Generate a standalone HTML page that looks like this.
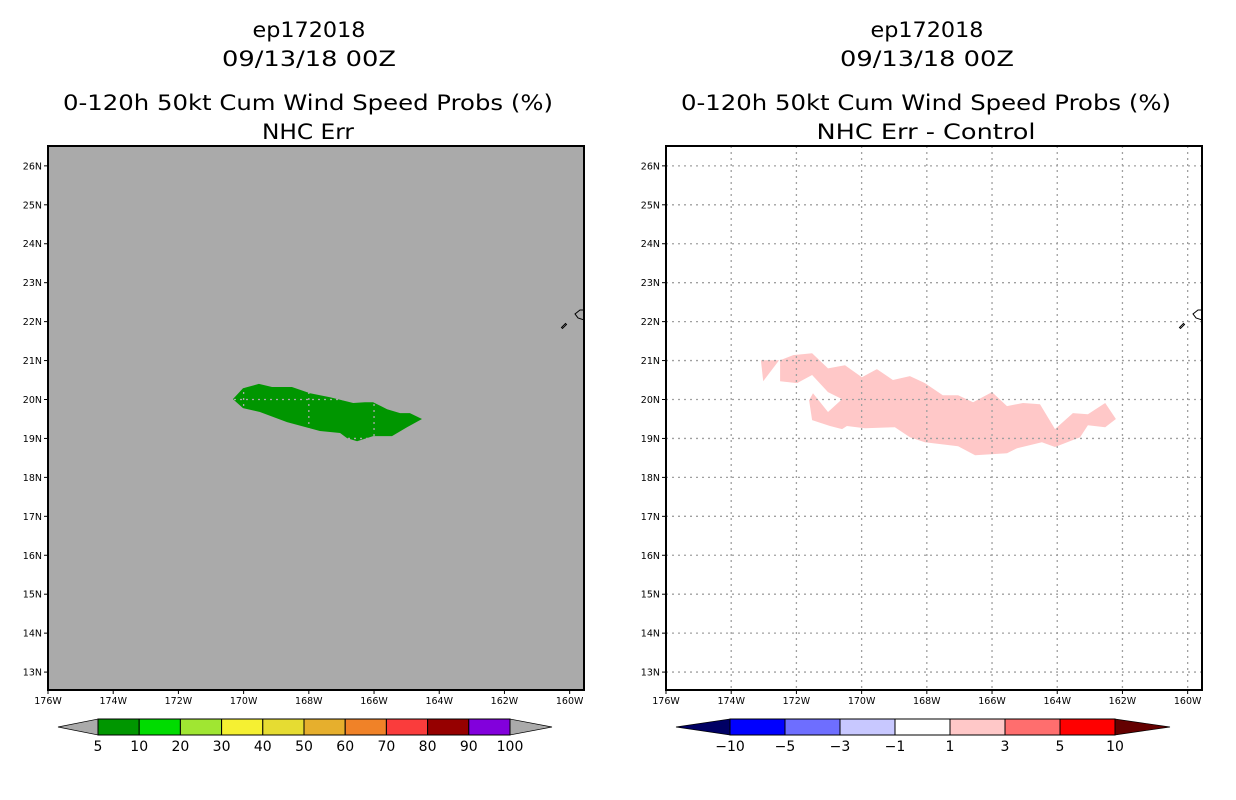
<!DOCTYPE html>
<html><head><meta charset="utf-8">
<style>
html,body{margin:0;padding:0;background:#fff;}
svg{display:block;font-family:"DejaVu Sans","Liberation Sans",sans-serif;}
.t{font-size:21px;text-anchor:middle;fill:#000;}
.ax{font-size:9.5px;fill:#000;}
.cb{font-size:14px;text-anchor:middle;fill:#000;}
</style></head>
<body>
<svg id="chart" width="1236" height="800" viewBox="0 0 1236 800">
  <g>
    <text class="t" x="309" y="37" textLength="113" lengthAdjust="spacingAndGlyphs">ep172018</text>
    <text class="t" x="309" y="66" textLength="174" lengthAdjust="spacingAndGlyphs">09/13/18 00Z</text>
    <text class="t" x="308" y="110" textLength="490" lengthAdjust="spacingAndGlyphs">0-120h 50kt Cum Wind Speed Probs (%)</text>
    <text class="t" x="308" y="139" textLength="92" lengthAdjust="spacingAndGlyphs">NHC Err</text>
  </g>
  <g>
    <text class="t" x="927" y="37" textLength="113" lengthAdjust="spacingAndGlyphs">ep172018</text>
    <text class="t" x="927" y="66" textLength="174" lengthAdjust="spacingAndGlyphs">09/13/18 00Z</text>
    <text class="t" x="926" y="110" textLength="490" lengthAdjust="spacingAndGlyphs">0-120h 50kt Cum Wind Speed Probs (%)</text>
    <text class="t" x="926" y="139" textLength="219" lengthAdjust="spacingAndGlyphs">NHC Err - Control</text>
  </g>
  <g id="left"></g>
  <g id="right"></g>
  <g id="cbl"></g>
  <g id="cbr"></g>
</svg>
<script>
// Map extents (deg W, deg N)
const lonW = 176, lonE = 159.56, latS = 12.54, latN = 26.51;
const lonTicks = [176,174,172,170,168,166,164,162,160];
const latTicks = [13,14,15,16,17,18,19,20,21,22,23,24,25,26];
// Left panel: probability >= 5% region (lon W, lat N)
const probLon = [170.33,170.02,169.53,169.13,168.52,167.96,167.35,166.64,166.28,166.03,165.60,165.20,164.90,164.53,164.99,165.45,166.03,166.52,166.83,167.04,167.66,168.67,169.50,170.02];
const probLat = [20.01,20.29,20.40,20.32,20.32,20.16,20.06,19.91,19.93,19.93,19.75,19.65,19.65,19.50,19.29,19.06,19.06,18.93,19.01,19.14,19.19,19.42,19.68,19.78];
// Right panel: difference 1-3% region
const diffLon = [172.50,172.10,171.52,171.03,170.51,169.99,169.53,169.04,168.52,168.06,167.51,167.04,166.58,166.00,165.54,165.05,164.53,164.07,163.52,163.06,162.53,162.20,162.53,163.06,163.30,164.07,164.47,165.23,165.54,166.52,167.04,168.06,168.52,168.98,169.90,170.45,170.60,170.97,171.52,171.61,171.49,171.03,170.60,171.03,171.52,171.98,172.50];
const diffLat = [21.01,21.14,21.19,20.80,20.88,20.57,20.78,20.50,20.60,20.42,20.11,20.11,19.93,20.19,19.83,19.91,19.88,19.24,19.65,19.62,19.91,19.50,19.29,19.34,19.03,18.78,18.90,18.75,18.62,18.57,18.80,18.90,19.03,19.29,19.26,19.32,19.24,19.32,19.47,19.98,20.16,19.68,20.01,20.19,20.63,20.42,20.47];
const diffLon2 = [173.09,172.53,173.02];
const diffLat2 = [21.01,21.01,20.47];
// Colorbars
const probLevels = ["5","10","20","30","40","50","60","70","80","90","100"];
const probColors = ["#009600","#00dc00","#a0e632","#f5f032","#e6dc32","#e6af2d","#f08228","#fa3c3c","#960000","#8200dc"];
const diffLevels = ["\u221210","\u22125","\u22123","\u22121","1","3","5","10"];
const diffColors = ["#0000ff","#6e6eff","#c8c8ff","#ffffff","#ffc8c8","#ff6e6e","#ff0000"];

const NS="http://www.w3.org/2000/svg";
function mk(tag, attrs, parent){const e=document.createElementNS(NS,tag);for(const k in attrs)e.setAttribute(k,attrs[k]);parent.appendChild(e);return e;}

function panel(g, x0, bg, gridColor, polys){
  const W=536,H=544,y0=146;
  const sx=lon=>x0+(lonW-lon)/(lonW-lonE)*W;
  const sy=lat=>y0+(latN-lat)/(latN-latS)*H;
  const r=mk('rect',{x:x0,y:y0,width:W,height:H,fill:bg},g);
  
  
  polys.forEach(p=>{
    const pts=p.lon.map((l,i)=>sx(l).toFixed(1)+','+sy(p.lat[i]).toFixed(1)).join(' ');
    const pg=mk('polygon',{points:pts,fill:p.color},g);
    
    
  });
  const grid=mk('g',{stroke:gridColor,'stroke-width':1.3,'stroke-dasharray':'2,4'},g);
  
  
  lonTicks.forEach(l=>{const x=sx(l);if(x>x0+2&&x<x0+W-2)mk('line',{x1:x,x2:x,y1:y0,y2:y0+H},grid);});
  latTicks.forEach(l=>{const y=sy(l);mk('line',{x1:x0,x2:x0+W,y1:y,y2:y},grid);});
  const isl=mk('path',{d:`M${sx(160.25)},${sy(21.85)} l4,-4 l1,1 l-4,4 z M${x0+W},${sy(22.3)} l-4,0 l-5,4 l3,4 l6,2`,fill:'none',stroke:'#000','stroke-width':1},g);
  
  
  const fr=mk('rect',{x:x0,y:y0,width:W,height:H,fill:'none',stroke:'#000','stroke-width':2},g);
  
  
  lonTicks.forEach(l=>{
    const x=sx(l);
    mk('line',{x1:x,x2:x,y1:y0+H,y2:y0+H+4,stroke:'#000'},g);
    const t=mk('text',{x:x,y:y0+H+14,'text-anchor':'middle',class:'ax'},g);
    t.textContent=l+'W';
    
    
  });
  latTicks.forEach(l=>{
    const y=sy(l);
    mk('line',{x1:x0-4,x2:x0,y1:y,y2:y,stroke:'#000'},g);
    const t=mk('text',{x:x0-6,y:y+3.5,'text-anchor':'end',class:'ax'},g);
    t.textContent=l+'N';
    
    
  });
}

panel(document.getElementById('left'),48,'#aaaaaa','#aaaaaa',[{lon:probLon,lat:probLat,color:'#009600',name:'prob-region-5-10'}]);
panel(document.getElementById('right'),666,'#fff','#a0a0a0',[{lon:diffLon,lat:diffLat,color:'#ffc8c8',name:'diff-region-1-3'},{lon:diffLon2,lat:diffLat2,color:'#ffc8c8',name:'diff-region-1-3-west'}]);

function colorbar(g,x0,x1,tipL,tipR,colors,labels,lc,rc){
  const y0=719,y1=735,w=(x1-x0)/colors.length;
  const a=mk('polygon',{points:`${tipL},727 ${x0},${y0} ${x0},${y1}`,fill:lc,stroke:'#000','stroke-width':0.7},g);
  
  
  const b=mk('polygon',{points:`${tipR},727 ${x1},${y0} ${x1},${y1}`,fill:rc,stroke:'#000','stroke-width':0.7},g);
  
  
  colors.forEach((c,i)=>{
    const r=mk('rect',{x:x0+i*w,y:y0,width:w,height:y1-y0,fill:c,stroke:'#000','stroke-width':1},g);
    
    
  });
  labels.forEach((l,i)=>{
    const t=mk('text',{x:x0+i*w,y:751,class:'cb'},g);
    t.textContent=l;
    
    
  });
}
colorbar(document.getElementById('cbl'),98,510,58,552,probColors,probLevels,'#aaaaaa','#aaaaaa');
colorbar(document.getElementById('cbr'),730,1115,676,1170,diffColors,diffLevels,'#000064','#640000');
</script>
</body></html>
